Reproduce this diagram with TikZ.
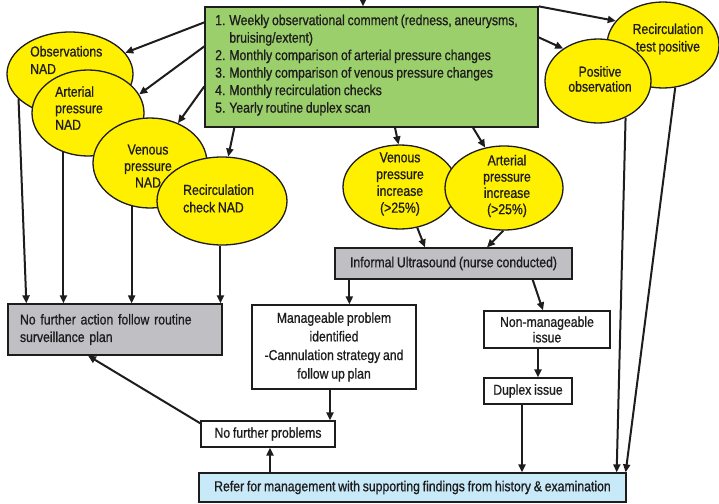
\documentclass[tikz,border=0pt]{standalone}
\usepackage{fontspec}
\setmainfont{Liberation Sans}[FakeStretch=0.85, WordSpace=0.82, FakeBold=0.8]
\usetikzlibrary{shapes.geometric,arrows.meta,calc}

\definecolor{leafgreen}{RGB}{155,207,107}
\definecolor{ovalyellow}{RGB}{255,240,0}
\definecolor{boxgray}{RGB}{191,191,196}
\definecolor{paleblue}{RGB}{200,233,248}
\definecolor{inkline}{RGB}{30,28,29}

\tikzset{
  lbl/.style={font=\fontsize{14.4}{17.5}\selectfont, text=inkline, inner sep=0pt},
  panel/.style={lbl, draw=inkline, line width=1.3pt, rectangle, inner sep=0pt},
  oval/.style={draw=inkline, line width=1.3pt, fill=ovalyellow, ellipse, inner sep=0pt},
  conn/.style={draw=inkline, line width=2pt, -{Triangle[length=8pt,width=7pt]}},
}

\begin{document}
\begin{tikzpicture}[x=1pt,y=-1pt]
\useasboundingbox (0,0) rectangle (719,503);
\clip (0,0) rectangle (719,503);
\fill[white] (0,0) rectangle (719,503);

% ---- monitoring schedule ----
\node[panel, fill=leafgreen, minimum width=333pt, minimum height=120pt] (green) at (371.5,67) {};
\node[lbl, anchor=north west, align=left] at (215,14.5)
  {1. Weekly observational comment (redness, aneurysms,\\
   \phantom{1. }bruising/extent)\\
   2. Monthly comparison of arterial pressure changes\\
   3. Monthly comparison of venous pressure changes\\
   4. Monthly recirculation checks\\
   5. Yearly routine duplex scan};
\coordinate (feed) at (363,-20);

% ---- boxes ----
\node[panel, fill=boxgray, minimum width=237pt, minimum height=31pt] (informal) at (453.5,263.5)
  {Informal Ultrasound (nurse conducted)};
\node[panel, fill=boxgray, minimum width=214pt, minimum height=51pt,
      text width=190pt, align=left] (noaction) at (115,329.5)
  {No further action follow routine\\surveillance plan};
\node[panel, fill=white, minimum width=164pt, minimum height=84pt, align=center,
      font=\fontsize{14.4}{18.6}\selectfont] (manage) at (334,347)
  {Manageable problem\\identified\\-Cannulation strategy and\\follow up plan};
\node[panel, fill=white, minimum width=126pt, minimum height=37pt, align=center,
      font=\fontsize{14.4}{15.5}\selectfont] (nonman) at (547,329.5)
  {Non-manageable\\issue};
\node[panel, fill=white, minimum width=88pt, minimum height=26pt] (duplex) at (528,391)
  {Duplex issue};
\node[panel, fill=white, minimum width=134pt, minimum height=26pt] (nofurther) at (268,434)
  {No further problems};
\node[panel, fill=paleblue, minimum width=427pt, minimum height=29pt] (refer) at (412.5,487.5)
  {Refer for management with supporting findings from history \& examination};

% ---- left group of ovals ----
\node[oval, minimum width=126pt, minimum height=84pt] (obs) at (70,74) {};
\node[lbl, anchor=west, align=left] at (30,60) {Observations\\NAD};
\node[oval, minimum width=112pt, minimum height=86pt] (art) at (88,113) {};
\node[lbl, anchor=west, align=left, font=\fontsize{14.4}{16.5}\selectfont] at (55,108) {Arterial\\pressure\\NAD};
\node[oval, minimum width=114pt, minimum height=90pt] (ven) at (150,163) {};
\node[lbl, align=center, font=\fontsize{14.4}{16.5}\selectfont] at (148,166) {Venous\\pressure\\NAD};
\node[oval, minimum width=130pt, minimum height=88pt] (rec) at (222,201) {};
\node[lbl, anchor=west, align=left] at (183,198.5) {Recirculation\\check NAD};

% ---- right ovals ----
\node[oval, minimum width=112pt, minimum height=86pt] (rtp) at (663,45) {};
\node[lbl, align=center] at (668,39) {Recirculation\\test positive};
\node[oval, minimum width=106pt, minimum height=84pt] (pos) at (598,81) {};
\node[lbl, align=center, font=\fontsize{14.4}{15}\selectfont] at (600,79) {Positive\\observation};

% ---- pressure increase ovals ----
\node[oval, minimum width=114pt, minimum height=84pt] (vinc) at (400,187) {};
\node[lbl, align=center, font=\fontsize{14.4}{16.8}\selectfont] at (400,184) {Venous\\pressure\\increase\\(>25\%)};
\node[oval, minimum width=118pt, minimum height=84pt] (ainc) at (504,188) {};
\node[lbl, align=center, font=\fontsize{14.4}{16.3}\selectfont] at (507,186) {Arterial\\pressure\\increase\\(>25\%)};

% ---- connectors ----
\draw[conn] (feed) -- (feed |- green.north);
\draw[conn] ([yshift=-16pt]green.north west) -- (obs.21);
\draw[conn] ([yshift=-40pt]green.north west) -- (art.20);
\draw[conn] ([yshift=-80pt]green.north west) -- (ven.55);
\draw[conn] ([xshift=30pt]green.south west) -- (rec.82);
\draw[conn] ([xshift=23.5pt]green.south) -- (vinc.92);
\draw[conn] ([xshift=101.5pt]green.south) -- (ainc.115);
\draw[conn] ([yshift=-31pt]green.north east) -- (pos.137);
\draw[conn] (green.north east) -- (rtp.153);

\draw[conn] (obs.206) -- ([xshift=19pt]noaction.north west);
\draw[conn] (art.238) -- (art.238 |- noaction.north);
\draw[conn] (ven.247) -- (ven.247 |- noaction.north);
\draw[conn] (rec.-92) -- (rec.-92 |- noaction.north);

\draw[conn] (vinc.-67) -- ([xshift=-28.5pt]informal.north);
\draw[conn] (ainc.-91) -- ([xshift=33.5pt]informal.north);
\draw[conn] ([xshift=15pt]informal.south west) -- ([xshift=15pt]informal.south west |- manage.north);
\draw[conn] ([xshift=-40pt]informal.south east) -- ([xshift=-4pt]nonman.north);
\draw[conn] ([xshift=-9pt]nonman.south) -- ([xshift=-9pt]nonman.south |- duplex.north);
\draw[conn] ([xshift=-6pt]duplex.south) -- ([xshift=-6pt]duplex.south |- refer.north);

\draw[conn] (pos.-53) -- ([xshift=-10pt]refer.north east);
\draw[conn] (rtp.-74) -- ([xshift=-1pt]refer.north east);

\draw[conn] ([xshift=-4pt]manage.south) -- ([xshift=-4pt]manage.south |- nofurther.north);
\draw[conn] ([xshift=2pt]nofurther.south |- refer.north) -- ([xshift=2pt]nofurther.south);
\draw[conn] ([yshift=-3pt]nofurther.north west) -- ([xshift=-27pt]noaction.south);
\end{tikzpicture}
\end{document}
